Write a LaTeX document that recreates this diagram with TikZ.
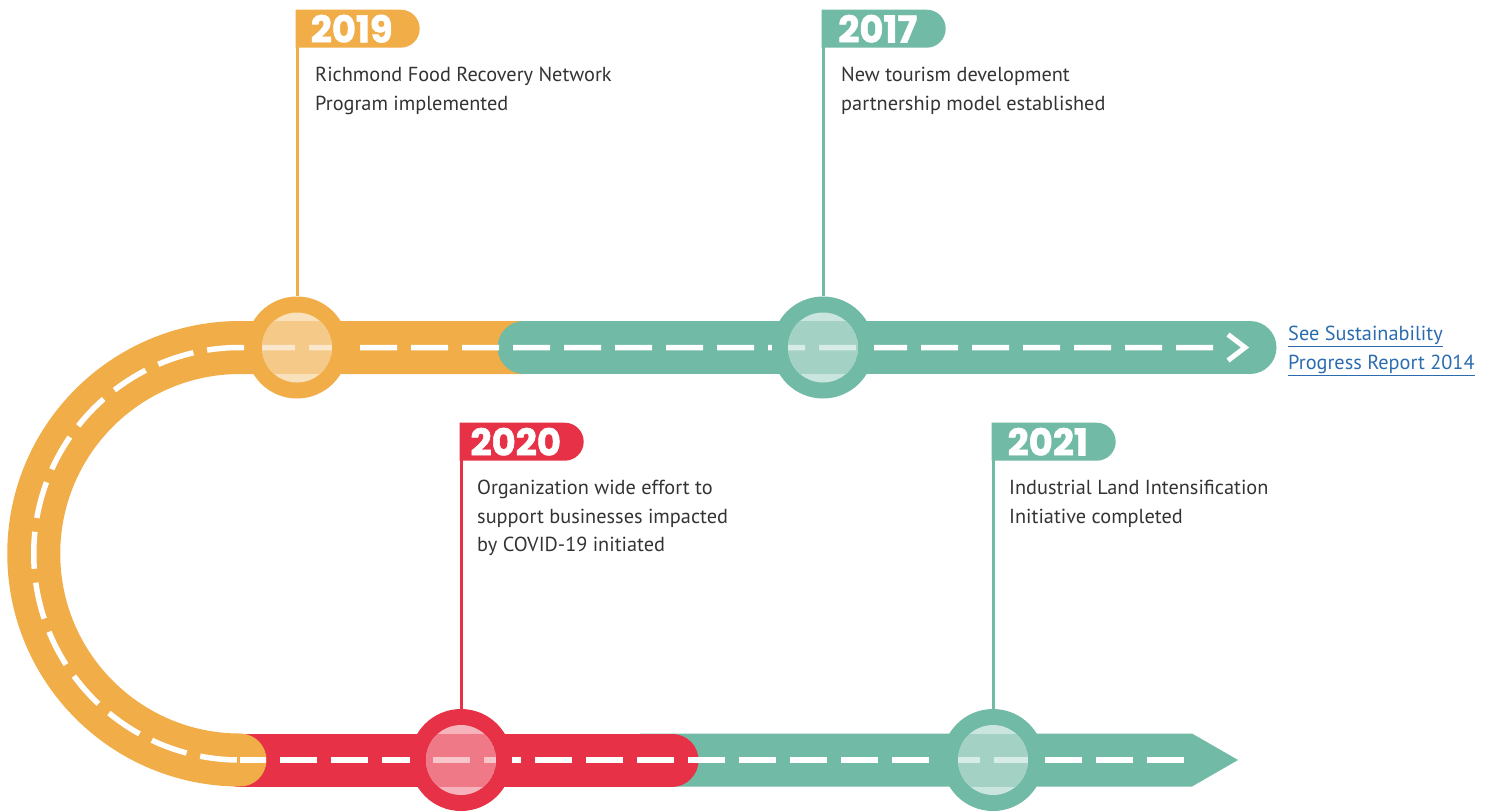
\documentclass[tikz,border=0pt]{standalone}
\usepackage{fontspec}
\setmainfont{PT Sans}
\newfontfamily\yearfont{Poppins}[BoldFeatures={FakeBold=1.5}]
\usetikzlibrary{shapes.misc}

\definecolor{roadorange}{HTML}{F0AD48}
\definecolor{roadgreen}{HTML}{71BAA5}
\definecolor{roadred}{HTML}{E63146}
\definecolor{linkblue}{HTML}{2B6CB0}
\definecolor{bodytext}{HTML}{333333}

% centre markings of the road: upper branch with the bend, and the lower branch
\newcommand\markingsUpper[1]{\draw[marking,#1] (1213,347.5) -- (240,347.5)
  arc[start angle=-90,end angle=-270,radius=206.25];}
\newcommand\markingsLower[1]{\draw[marking,#1] (1184,760) -- (240,760);}

% milestone disc: name, colour, x, y
\newcommand\milestone[4]{%
  \node[milestone,fill=#2] (#1) at (#3,#4) {};
  \begin{scope}
    \clip (#3,#4) circle (35);
    \fill[#2!37!white] (#3,#4) circle (35);
    \fill[#2!65!white] (#3-40,#4-26.5) rectangle (#3+40,#4+26.5);
    \markingsUpper{draw=#2!28!white}
    \markingsLower{draw=#2!28!white}
  \end{scope}}

\tikzset{
  road/.style={line width=53pt},
  marking/.style={line width=5.5pt,dash pattern=on 37pt off 14pt},
  stem/.style={line width=3pt},
  milestone/.style={circle,minimum size=102pt,inner sep=0pt},
  yearbox/.style={rounded rectangle,rounded rectangle left arc=none,
    minimum height=38pt,minimum width=124pt,inner sep=0pt,anchor=north west,
    text=white,font=\yearfont\bfseries\fontsize{37}{37}\selectfont},
  caption/.style={anchor=north west,align=left,inner sep=0pt,text=bodytext,
    font=\fontsize{20.3}{28.5}\selectfont},
}

\begin{document}
\begin{tikzpicture}[x=1pt,y=-1pt]
\useasboundingbox (0,0) rectangle (1495,811);

% lower branch ending in an arrow point
\fill[roadgreen] (640,733.5) -- (1192,733.5) -- (1238,760) -- (1192,786.5) -- (640,786.5) -- cycle;
\draw[road,roadred,line cap=round] (240,760) -- (672,760);
% bend joining the two branches
\draw[road,roadorange,line cap=round] (524,347.5) -- (240,347.5)
  arc[start angle=-90,end angle=-270,radius=206.25];
% upper branch
\draw[road,roadgreen,line cap=round] (524,347.5) -- (1250,347.5);

% markings and arrow chevron
\markingsUpper{draw=white}
\markingsLower{draw=white}
\draw[white,line width=5pt] (1228,334.5) -- (1245,347.5) -- (1228,360.5);

% milestones
\milestone{c2019}{roadorange}{297}{347.5}
\milestone{c2017}{roadgreen}{823}{347.5}
\milestone{c2020}{roadred}{461}{760}
\milestone{c2021}{roadgreen}{993}{760}

% year flags
\node[yearbox,fill=roadorange] (y2019) at (295.5,9.5) {\kern-6pt 2019};
\node[yearbox,fill=roadgreen] (y2017) at (821.5,9.5) {\kern-6pt 2017};
\node[yearbox,fill=roadred] (y2020) at (459.5,422.5) {\kern-6pt 2020};
\node[yearbox,fill=roadgreen] (y2021) at (991.5,422.5) {\kern-6pt 2021};

\draw[stem,roadorange] (c2019.north) -- (c2019.north |- y2019.north);
\draw[stem,roadgreen] (c2017.north) -- (c2017.north |- y2017.north);
\draw[stem,roadred] (c2020.north) -- (c2020.north |- y2020.north);
\draw[stem,roadgreen] (c2021.north) -- (c2021.north |- y2021.north);

% descriptions
\node[caption] (t2019) at (315,67) {Richmond Food Recovery Network\\Program implemented};
\node[caption] (t2017) at (841,67) {New tourism development\\partnership model established};
\node[caption] (t2020) at (477,480) {Organization wide effort to\\support businesses impacted\\by COVID-19 initiated};
\node[caption] (t2021) at (1009,480) {Industrial Land Intensification\\Initiative completed};

% link
\node[caption,text=linkblue] (link) at (1288,326)
  {\underline{See Sustainability}\\\underline{Progress Report 2014}};
\end{tikzpicture}
\end{document}
